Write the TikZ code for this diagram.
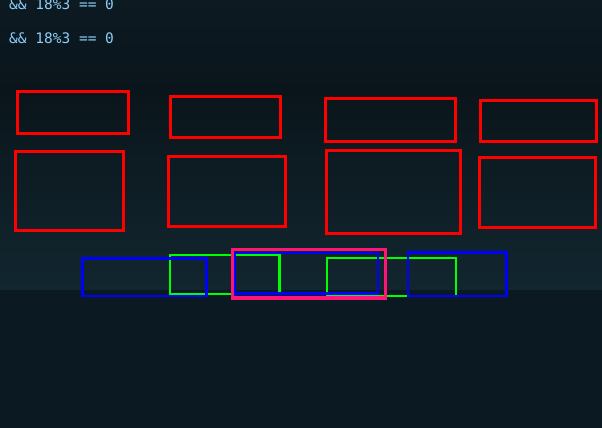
\documentclass[tikz,border=0pt]{standalone}
\usepackage{fontspec}
\setmonofont{DejaVu Sans Mono}
\usetikzlibrary{positioning}
\definecolor{bgtop}{HTML}{0D1A22}
\definecolor{bgmid}{HTML}{0A151B}
\definecolor{bgband}{HTML}{12262F}
\definecolor{bgfloor}{HTML}{0B1A22}
\definecolor{codeblue}{HTML}{8CCDF8}
\definecolor{boxred}{HTML}{FF0000}
\definecolor{boxblue}{HTML}{0000FF}
\definecolor{boxgreen}{HTML}{00FF00}
\definecolor{boxpink}{HTML}{FF1478}
\tikzset{
  codeline/.style={font=\ttfamily\fontsize{14.5}{16}\selectfont, text=codeblue, inner sep=0pt, anchor=base west},
  redbox/.style={draw=boxred, line width=3pt},
  bluebox/.style={draw=boxblue, line width=2.8pt},
  greenbox/.style={draw=boxgreen, line width=2.8pt},
  pinkbox/.style={draw=boxpink, line width=3.2pt}
}
\begin{document}
\begin{tikzpicture}[x=1pt, y=-1pt]
  \useasboundingbox (0,0) rectangle (602,428);
  % background
  \shade[top color=bgtop, bottom color=bgmid] (0,0) rectangle (602,90);
  \shade[top color=bgmid, bottom color=bgband] (0,90) rectangle (602,290);
  \fill[bgfloor] (0,290) rectangle (602,428);
  % code text
  \node[codeline] (lineA) at (9,9.3) {\&\& 18\%3 == 0};
  \node[codeline] (lineB) at (9,43.3) {\&\& 18\%3 == 0};
  % upper row
  \draw[redbox] (17,91) rectangle (128,133);
  \draw[redbox] (170,96) rectangle (280,137);
  \draw[redbox] (325,98) rectangle (455,141);
  \draw[redbox] (480,100) rectangle (596,141);
  % lower row
  \draw[redbox] (15,151) rectangle (123,230);
  \draw[redbox] (168,156) rectangle (285,226);
  \draw[redbox] (326,150) rectangle (460,233);
  \draw[redbox] (479,157) rectangle (595,227);
  % strip
  \draw[greenbox] (170,255) rectangle (279.5,294);
  \draw[greenbox] (327,258) rectangle (456,296);
  \draw[bluebox] (82.5,258.5) rectangle (206.5,296);
  \draw[bluebox] (235,253) rectangle (378,293.5);
  \draw[bluebox] (408,252.5) rectangle (506.5,296);
  \draw[pinkbox] (232.5,249.5) rectangle (385.5,298);
\end{tikzpicture}
\end{document}
